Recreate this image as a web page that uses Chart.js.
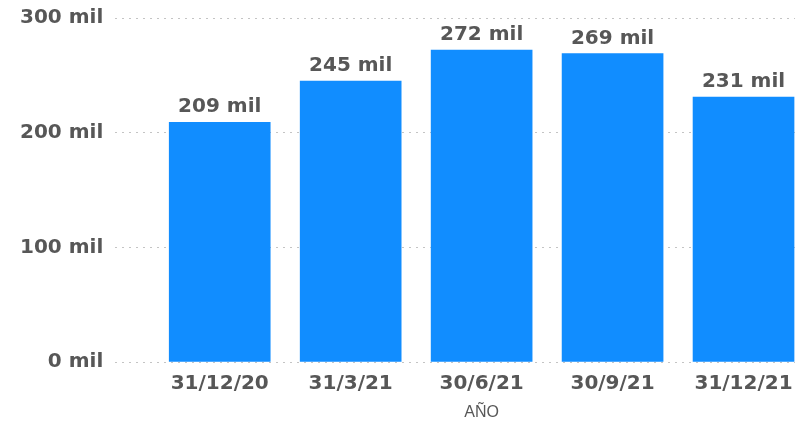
<!DOCTYPE html>
<html lang="es">
<head>
    <meta charset="UTF-8">
    <title>AÑO</title>
    <script src="https://cdn.jsdelivr.net/npm/chart.js"></script>
    <style>
        body {
            margin: 0;
            background: #fff;
            overflow: hidden;
        }
        .chart-container {
            width: 801px;
            height: 421px;
        }
    </style>
</head>
<body>
    <div class="chart-container">
        <canvas id="barChart"></canvas>
    </div>

    <script>
        const dates = ['31/12/20', '31/3/21', '30/6/21', '30/9/21', '31/12/21'];
        const values = [209000, 245000, 272000, 269000, 231000];
        const yTicks = [0, 100000, 200000, 300000];
        const axisTitle = 'AÑO';

        const textColor = '#575757';
        const boldFont = { family: 'DejaVu Sans', weight: 'bold', size: 20 };

        const fmt = v => Math.round(v / 1000) + ' mil';

        // value labels on top of each bar
        const barLabels = {
            id: 'barLabels',
            afterDatasetsDraw(chart) {
                const ctx = chart.ctx;
                const meta = chart.getDatasetMeta(0);
                ctx.save();
                ctx.font = 'bold 20px "DejaVu Sans"';
                ctx.fillStyle = textColor;
                ctx.textAlign = 'center';
                ctx.textBaseline = 'alphabetic';
                meta.data.forEach((bar, i) => {
                    ctx.fillText(fmt(values[i]), bar.x, bar.y - 10);
                });
                ctx.restore();
            }
        };

        // axis title centred under the middle category
        const xTitle = {
            id: 'xTitle',
            afterDraw(chart) {
                const ctx = chart.ctx;
                const x = chart.scales.x.getPixelForValue((dates.length - 1) / 2);
                ctx.save();
                ctx.font = '16px "Liberation Sans"';
                ctx.fillStyle = textColor;
                ctx.textAlign = 'center';
                ctx.textBaseline = 'alphabetic';
                ctx.fillText(axisTitle, x, 417);
                ctx.restore();
            }
        };

        new Chart(document.getElementById('barChart'), {
            type: 'bar',
            data: {
                datasets: [{
                    data: values.map((v, i) => ({ x: i, y: v })),
                    backgroundColor: '#118DFF',
                    barThickness: 101
                }]
            },
            options: {
                responsive: true,
                maintainAspectRatio: false,
                animation: false,
                layout: {
                    padding: { left: 8, right: 6, top: 8, bottom: 23 }
                },
                plugins: {
                    legend: { display: false },
                    tooltip: { enabled: false }
                },
                scales: {
                    x: {
                        type: 'linear',
                        offset: false,
                        min: -0.7977,
                        max: 4.393,
                        grid: { display: false },
                        border: { display: false },
                        afterBuildTicks: axis => {
                            axis.ticks = dates.map((d, i) => ({ value: i }));
                        },
                        ticks: {
                            autoSkip: false,
                            maxRotation: 0,
                            padding: 2,
                            color: textColor,
                            font: boldFont,
                            callback: v => dates[v]
                        }
                    },
                    y: {
                        min: 0,
                        max: 300000,
                        afterBuildTicks: axis => {
                            axis.ticks = yTicks.map(v => ({ value: v }));
                        },
                        grid: {
                            color: '#c4c4c4',
                            lineWidth: 1,
                            drawTicks: false
                        },
                        border: { display: false, dash: [2, 5] },
                        ticks: {
                            padding: 12,
                            color: textColor,
                            font: { ...boldFont, lineHeight: 0.6 },
                            callback: v => fmt(v)
                        }
                    }
                }
            },
            plugins: [barLabels, xTitle]
        });
    </script>
</body>
</html>
